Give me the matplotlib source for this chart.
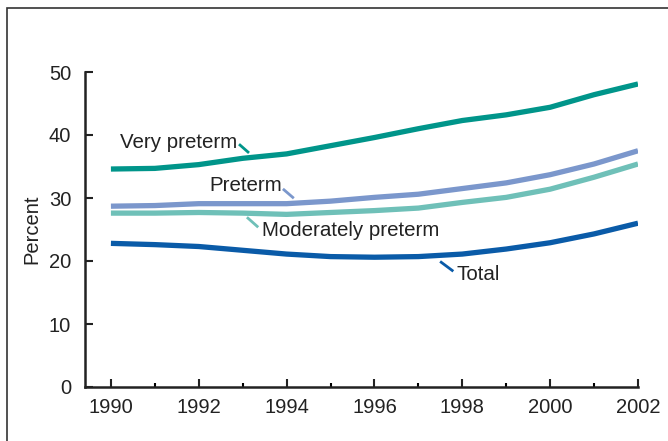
import matplotlib
matplotlib.use('Agg')
import matplotlib.pyplot as plt
from matplotlib.patches import Rectangle

years = list(range(1990, 2003))
very_preterm = [34.6, 34.7, 35.3, 36.3, 37.0, 38.3, 39.6, 41.0, 42.3, 43.2, 44.4, 46.4, 48.1]
preterm = [28.7, 28.8, 29.1, 29.1, 29.1, 29.5, 30.1, 30.6, 31.5, 32.4, 33.7, 35.4, 37.5]
moderately_preterm = [27.6, 27.6, 27.7, 27.6, 27.4, 27.7, 28.0, 28.4, 29.3, 30.1, 31.4, 33.3, 35.4]
total = [22.8, 22.6, 22.3, 21.7, 21.1, 20.7, 20.6, 20.7, 21.1, 21.9, 22.9, 24.3, 26.0]

plt.rcParams['font.family'] = ['Liberation Sans', 'DejaVu Sans']

fig = plt.figure(figsize=(6.68, 4.41), dpi=100)
# outer frame
fig.patches.append(Rectangle((7/668, -0.1), 1.2, 1 - 8/441 + 0.1, transform=fig.transFigure,
                             fill=False, edgecolor='#333333', linewidth=1.2))

ax = fig.add_axes([85/668, 1 - 387/441, (638 - 85)/668, (387 - 72)/441])

series = [
    (very_preterm, '#00958a'),
    (preterm, '#7b97cc'),
    (moderately_preterm, '#6fc0b8'),
    (total, '#0a5ba8'),
]
for vals, col in series:
    ax.plot(years, vals, color=col, linewidth=3.8, solid_capstyle='butt')

# labels with short leader lines: (text, color, text pos, ha, leader segment)
labels = [
    ('Very preterm', '#00958a', (1992.87, 38.8), 'right', ((1992.94, 1993.12), (38.4, 37.3))),
    ('Preterm', '#7b97cc', (1993.9, 32.0), 'right', ((1993.94, 1994.14), (31.3, 30.1))),
    ('Moderately preterm', '#6fc0b8', (1993.44, 24.8), 'left', ((1993.12, 1993.33), (26.8, 25.5))),
    ('Total', '#0a5ba8', (1997.86, 17.8), 'left', ((1997.52, 1997.77), (19.8, 18.5))),
]
for txt, col, pos, ha, (lx, ly) in labels:
    ax.text(pos[0], pos[1], txt, ha=ha, va='center', fontsize=14.8, color='#222222')
    ax.plot(lx, ly, color=col, linewidth=2)

ax.set_xlim(1989.41, 2002)
ax.set_ylim(0, 50)
ax.set_xticks(range(1990, 2003, 2))
ax.set_xticks(range(1991, 2002, 2), minor=True)
ax.set_yticks(range(0, 51, 10))
ax.tick_params(axis='both', which='major', direction='in', length=6, width=1.5,
               labelsize=14.5, colors='#222222')
ax.tick_params(axis='x', which='minor', direction='in', length=3, width=1.5)
ax.tick_params(axis='x', pad=8)
ax.tick_params(axis='y', pad=10)
for s in ['top', 'right']:
    ax.spines[s].set_visible(False)
for s in ['left', 'bottom']:
    ax.spines[s].set_linewidth(1.8)
    ax.spines[s].set_color('#222222')
ax.set_ylabel('Percent', fontsize=14.5, color='#222222', labelpad=5)

fig.savefig('out.png', dpi=100)
